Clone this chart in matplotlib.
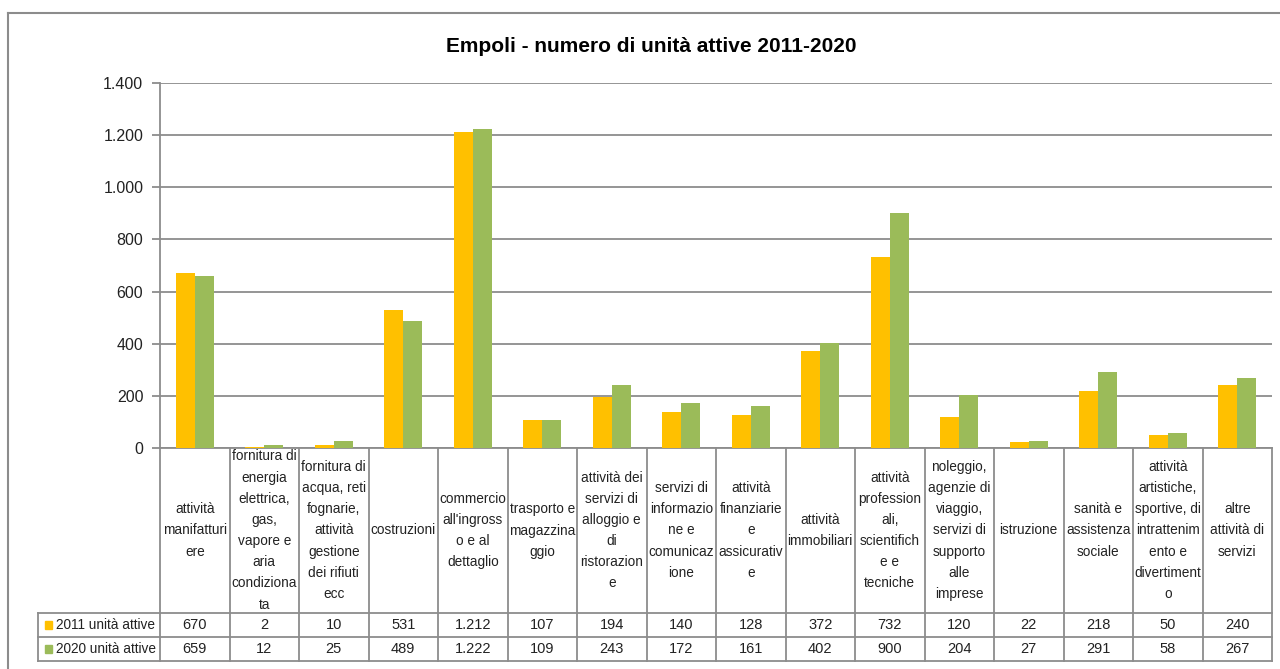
import numpy as np
import matplotlib
matplotlib.use('Agg')
import matplotlib.pyplot as plt
from matplotlib.lines import Line2D
from matplotlib.patches import Rectangle

plt.rcParams['font.family'] = ['Liberation Sans Narrow', 'Liberation Sans', 'DejaVu Sans']

# data
categories = [
    "attività\nmanifatturi\nere",
    "fornitura di\nenergia\nelettrica,\ngas,\nvapore e\naria\ncondiziona\nta",
    "fornitura di\nacqua, reti\nfognarie,\nattività\ngestione\ndei rifiuti\necc",
    "costruzioni",
    "commercio\nall'ingross\no e al\ndettaglio",
    "trasporto e\nmagazzina\nggio",
    "attività dei\nservizi di\nalloggio e\ndi\nristorazion\ne",
    "servizi di\ninformazio\nne e\ncomunicaz\nione",
    "attività\nfinanziarie\ne\nassicurativ\ne",
    "attività\nimmobiliari",
    "attività\nprofession\nali,\nscientifich\ne e\ntecniche",
    "noleggio,\nagenzie di\nviaggio,\nservizi di\nsupporto\nalle\nimprese",
    "istruzione",
    "sanità e\nassistenza\nsociale",
    "attività\nartistiche,\nsportive, di\nintrattenim\nento e\ndivertiment\no",
    "altre\nattività di\nservizi",
]
units_2011 = [670, 2, 10, 531, 1212, 107, 194, 140, 128, 372, 732, 120, 22, 218, 50, 240]
units_2020 = [659, 12, 25, 489, 1222, 109, 243, 172, 161, 402, 900, 204, 27, 291, 58, 267]
series_names = ["2011 unità attive", "2020 unità attive"]
colors = ["#FFC000", "#9BBB59"]
yticks = [0, 200, 400, 600, 800, 1000, 1200, 1400]


def fmt(v):
    return f"{v:,}".replace(",", ".")


W, H = 1280, 669
fig = plt.figure(figsize=(W / 100, H / 100), dpi=100)

x0, x1 = 160, 1272
ytop, ybot = 83, 448
ax = fig.add_axes([x0 / W, 1 - ybot / H, (x1 - x0) / W, (ybot - ytop) / H])

n = len(categories)
x = np.arange(n)
bw = 0.273
ax.bar(x - bw / 2, units_2011, bw, color=colors[0], zorder=3)
ax.bar(x + bw / 2, units_2020, bw, color=colors[1], zorder=3)

ax.set_xlim(-0.5, n - 0.5)
ax.set_ylim(0, 1400)
ax.set_yticks(yticks)
ax.set_yticklabels([fmt(v) for v in yticks], fontsize=11.5, color='#222222')
ax.set_xticks([])
ax.grid(axis='y', color='#8c8c8c', lw=1.3, zorder=0)
ax.tick_params(axis='y', length=6, color='#8c8c8c', width=1.3, pad=6)
for s in ['top', 'right']:
    ax.spines[s].set_visible(False)
ax.spines['left'].set_color('#8c8c8c')
ax.spines['left'].set_linewidth(1.3)
ax.spines['bottom'].set_color('#8c8c8c')
ax.spines['bottom'].set_linewidth(1.3)

fig.text(651 / W, 1 - 46 / H, "Empoli - numero di unità attive 2011-2020",
         ha='center', va='center', fontsize=15, fontweight='bold')

# data table below the axis
trans = ax.get_xaxis_transform()
axh = ybot - ytop
r1 = -(613 - ybot) / axh
r2 = -(637 - ybot) / axh
r3 = -(661 - ybot) / axh
lc = '#8c8c8c'
lab_left = -0.5 - (x0 - 38) / ((x1 - x0) / n)

for i in range(n + 1):
    ax.add_line(Line2D([i - 0.5, i - 0.5], [0, r3], transform=trans, color=lc, lw=1.3, clip_on=False))
for yy in [r1, r2, r3]:
    ax.add_line(Line2D([lab_left, n - 0.5], [yy, yy], transform=trans, color=lc, lw=1.3, clip_on=False))
ax.add_line(Line2D([lab_left, lab_left], [r1, r3], transform=trans, color=lc, lw=1.3, clip_on=False))

for i, c in enumerate(categories):
    ax.text(i, r1 / 2, c, transform=trans, ha='center', va='center', fontsize=9.8,
            linespacing=1.65, color='#222222', clip_on=False)
for row, (vals, top, bot) in enumerate([(units_2011, r1, r2), (units_2020, r2, r3)]):
    ymid = (top + bot) / 2
    for i, v in enumerate(vals):
        ax.text(i, ymid, fmt(v), transform=trans, ha='center', va='center',
                fontsize=10.5, color='#222222', clip_on=False)
    ax.add_patch(Rectangle((lab_left + 0.1, ymid - 0.012), 0.1, 0.024, transform=trans,
                           color=colors[row], clip_on=False))
    ax.text(lab_left + 0.26, ymid, series_names[row], transform=trans, ha='left', va='center',
            fontsize=9.8, color='#222222', clip_on=False)

# outer chart border
fig.add_artist(Line2D([8 / W, 8 / W], [0, 1 - 13 / H], transform=fig.transFigure, color='#8c8c8c', lw=1.5))
fig.add_artist(Line2D([8 / W, 1], [1 - 13 / H, 1 - 13 / H], transform=fig.transFigure, color='#8c8c8c', lw=1.5))

plt.savefig('out.png', dpi=100)
